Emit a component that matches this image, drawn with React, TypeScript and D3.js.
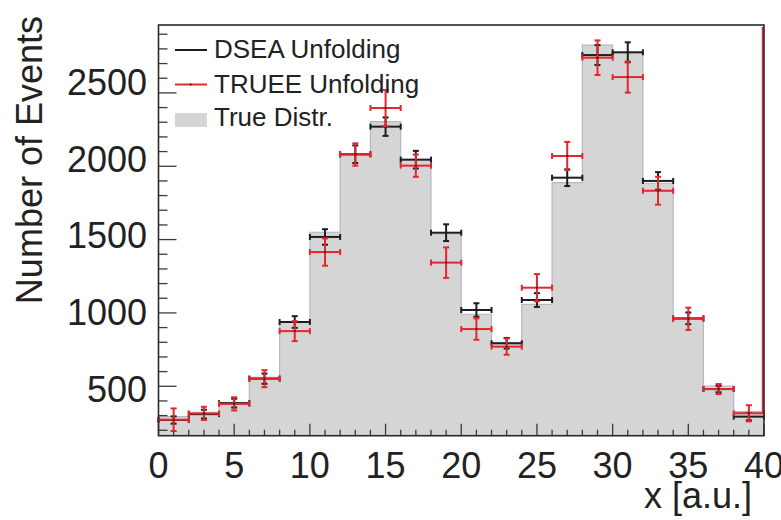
import React from "react";
import * as d3 from "d3";

// ---- data ----
const binLow = [0, 2, 4, 6, 8, 10, 12, 14, 16, 18, 20, 22, 24, 26, 28, 30, 32, 34, 36, 38];
const binWidth = 2;
const trueDistr = [293, 323, 388, 561, 940, 1550, 2077, 2304, 2043, 1538, 991, 800, 1059, 1888, 2826, 2772, 1884, 963, 502, 327];
const dseaVals = [270, 310, 385, 552, 938, 1518, 2082, 2270, 2045, 1547, 1020, 793, 1088, 1922, 2758, 2777, 1900, 963, 481, 293];
const dseaErr = [25, 30, 30, 35, 40, 53, 60, 63, 60, 57, 46, 36, 47, 57, 68, 68, 60, 40, 22, 25];
const trueeVals = [272, 315, 380, 552, 876, 1415, 2080, 2397, 2004, 1343, 890, 770, 1172, 2070, 2740, 2608, 1833, 960, 481, 316];
const trueeErr = [77, 45, 45, 58, 68, 93, 76, 123, 76, 104, 73, 55, 93, 96, 118, 106, 95, 76, 34, 55];

const xTickLabels = [0, 5, 10, 15, 20, 25, 30, 35, 40];
const yTickLabels = [500, 1000, 1500, 2000, 2500];
const legendLabels = ["DSEA Unfolding", "TRUEE Unfolding", "True Distr."];

// ---- layout ----
const W = 781, H = 520;
const L = 158.5, R = 764, T = 25, B = 435.7;
const FONT = "'Liberation Sans', Arial, Helvetica, sans-serif";
const BLACK = "#1e1e1e";
const RED = "#e5262e";
const GRAY = "#d5d5d5";
const GRAY_LINE = "#b4b8c0";

const xs = d3.scaleLinear().domain([0, 40]).range([L, R]);
const ys = d3.scaleLinear().domain([163, 2963]).range([B, T]);
// label placement as it appears in the reference
const yLab = d3.scaleLinear().domain([500, 2500]).range([388.5, 82]);

function ErrorSeries({ vals, errs, color }: { vals: number[]; errs: number[]; color: string }) {
  const cap = 3;
  return (
    <g stroke={color} strokeWidth={2} fill="none">
      {vals.map((v, i) => {
        const x0 = xs(binLow[i]);
        const x1 = xs(binLow[i] + binWidth);
        const xc = xs(binLow[i] + binWidth / 2);
        const y = ys(v);
        const yt = ys(v + errs[i]);
        const yb = ys(v - errs[i]);
        return (
          <g key={i}>
            <line x1={x0} x2={x1} y1={y} y2={y} />
            <line x1={x0} x2={x0} y1={y - cap} y2={y + cap} />
            <line x1={x1} x2={x1} y1={y - cap} y2={y + cap} />
            <line x1={xc} x2={xc} y1={yt} y2={yb} />
            <line x1={xc - cap} x2={xc + cap} y1={yt} y2={yt} />
            <line x1={xc - cap} x2={xc + cap} y1={yb} y2={yb} />
            <circle cx={xc} cy={y} r={1} fill={BLACK} stroke="none" />
          </g>
        );
      })}
    </g>
  );
}

export default function App() {
  const pts: [number, number][] = binLow.map((lo, i) => [lo, trueDistr[i]]);
  pts.push([40, trueDistr[trueDistr.length - 1]]);
  const area = d3
    .area<[number, number]>()
    .x((d) => xs(d[0]))
    .y0(B)
    .y1((d) => ys(d[1]))
    .curve(d3.curveStepAfter);
  const line = d3
    .line<[number, number]>()
    .x((d) => xs(d[0]))
    .y((d) => ys(d[1]))
    .curve(d3.curveStepAfter);

  const xMinor = d3.range(0, 41, 1);
  const yMinor = d3.range(200, 2963, 100);

  return (
    <div style={{ position: "absolute", left: 0, top: 0 }}>
      <svg width={W} height={H} style={{ display: "block", background: "#fff" }} fontFamily={FONT}>
        {/* true distribution */}
        <path d={area(pts) || ""} fill={GRAY} stroke="none" />
        <path d={line(pts) || ""} fill="none" stroke={GRAY_LINE} strokeWidth={1.2} />

        {/* ticks */}
        <g stroke="#3a3a3a" strokeWidth={1.3}>
          {xMinor.map((v) => (
            <line key={"xt" + v} x1={xs(v)} x2={xs(v)} y1={B} y2={B - (v % 5 === 0 ? 12 : 6)} />
          ))}
          {yMinor.map((v) => (
            <line key={"yt" + v} x1={L} x2={L + (v % 500 === 0 ? 18 : 9)} y1={ys(v)} y2={ys(v)} />
          ))}
        </g>

        <ErrorSeries vals={dseaVals} errs={dseaErr} color={BLACK} />
        <ErrorSeries vals={trueeVals} errs={trueeErr} color={RED} />

        {/* red edge line at x = 40 */}
        <line x1={xs(40) - 1.2} x2={xs(40) - 1.2} y1={T + 2} y2={ys(trueeVals[19])} stroke={RED} strokeWidth={2} />

        {/* frame */}
        <rect x={L} y={T} width={R - L} height={B - T} fill="none" stroke="#2a2a2a" strokeWidth={1.6} />

        {/* tick labels */}
        <g fontSize={36} fill="#222">
          {xTickLabels.map((v) => (
            <text key={"xl" + v} x={xs(v)} y={478} textAnchor="middle">
              {v}
            </text>
          ))}
          {yTickLabels.map((v) => (
            <text key={"yl" + v} x={147} y={yLab(v) + 13} textAnchor="end">
              {v}
            </text>
          ))}
        </g>

        {/* axis titles */}
        <text x={752} y={508} fontSize={36} textAnchor="end" fill="#222">
          x [a.u.]
        </text>
        <text transform="translate(42,16) rotate(-90)" fontSize={36} textAnchor="end" fill="#222">
          Number of Events
        </text>

        {/* legend */}
        <g fontSize={26} fill="#222">
          <line x1={175} x2={207} y1={50} y2={50} stroke={BLACK} strokeWidth={2} />
          <text x={214} y={57.7}>{legendLabels[0]}</text>
          <line x1={175} x2={207} y1={84.5} y2={84.5} stroke={RED} strokeWidth={2} />
          <circle cx={190.7} cy={84.5} r={1} fill={BLACK} />
          <text x={214} y={92.7}>{legendLabels[1]}</text>
          <rect x={175} y={113} width={32} height={14} fill={GRAY} />
          <text x={214} y={126}>{legendLabels[2]}</text>
        </g>
      </svg>
    </div>
  );
}
